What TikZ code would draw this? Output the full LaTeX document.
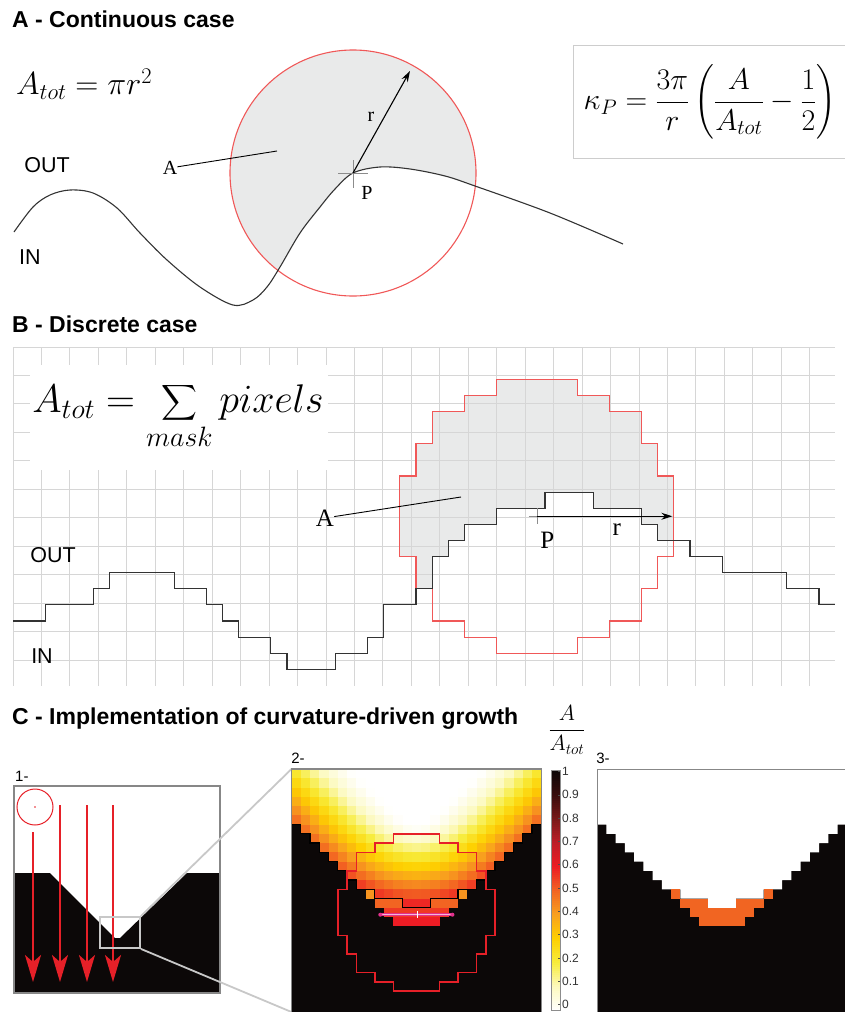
\RequirePackage{fix-cm}
\documentclass[tikz,border=0pt]{standalone}
\usepackage{amsmath}
\usepackage{fontspec}
\setmainfont{Liberation Serif}
\setsansfont{Liberation Sans}
\usetikzlibrary{arrows.meta}

\definecolor{shadegray}{RGB}{233,234,234}
\definecolor{maskred}{RGB}{240,88,88}
\definecolor{arrred}{RGB}{230,32,40}
\definecolor{gridgray}{RGB}{214,214,214}
\definecolor{boxgray}{RGB}{205,205,205}
\definecolor{framegray}{RGB}{135,135,135}
\definecolor{zoomgray}{RGB}{200,200,200}
\definecolor{inkblack}{RGB}{12,8,8}
\definecolor{groworange}{RGB}{241,101,34}
\definecolor{pinkln}{RGB}{226,48,140}
% reversed hot colour map, one stop every 0.1
\definecolor{hs0}{RGB}{255,255,255}
\definecolor{hs1}{RGB}{252,249,190}
\definecolor{hs2}{RGB}{247,236,60}
\definecolor{hs3}{RGB}{254,208,0}
\definecolor{hs4}{RGB}{248,160,30}
\definecolor{hs5}{RGB}{242,100,34}
\definecolor{hs6}{RGB}{237,28,36}
\definecolor{hs7}{RGB}{190,30,40}
\definecolor{hs8}{RGB}{120,25,25}
\definecolor{hs9}{RGB}{55,12,12}
\definecolor{hs10}{RGB}{12,8,8}

\newcommand\sethot[1]{%
  \pgfmathsetmacro\hotv{min(max(#1,0),0.9999)*10}%
  \pgfmathtruncatemacro\hotk{floor(\hotv)}%
  \pgfmathtruncatemacro\hotn{\hotk+1}%
  \pgfmathtruncatemacro\hotp{round((\hotv-\hotk)*100)}%
  \colorlet{hot}{hs\hotn!\hotp!hs\hotk}}

% first IN row of column #1 in panels C2/C3
\newcommand\wof[1]{%
  \ifnum\numexpr#1\relax<0 \the\numexpr6+(#1)\relax
  \else\ifnum\numexpr#1\relax>26 \the\numexpr32-(#1)\relax
  \else\ifcase\numexpr#1\relax 6\or7\or8\or9\or10\or11\or12\or13\or13\or14\or14\or14\or15\or15\or15\or14\or14\or14\or13\or13\or12\or11\or10\or9\or8\or7\or6\fi
  \fi\fi}

\tikzset{
  ttl/.style    ={anchor=west, inner sep=0pt,
                  font=\sffamily\bfseries\fontsize{23}{26}\selectfont},
  side/.style   ={inner sep=0pt, font=\sffamily\fontsize{21.5}{24}\selectfont},
  lblA/.style   ={inner sep=0pt, font=\fontsize{20}{22}\selectfont},
  lblB/.style   ={inner sep=0pt, font=\fontsize{25}{28}\selectfont},
  numl/.style   ={inner sep=0pt, font=\sffamily\fontsize{15}{17}\selectfont},
  tickl/.style  ={anchor=west, inner sep=0pt, text=black!80,
                  font=\sffamily\fontsize{12}{13}\selectfont},
  curve/.style  ={line width=1.1pt, black!80},
  mask/.style   ={line width=1.1pt, maskred},
  ptr/.style    ={line width=0.9pt, black},
  rad/.style    ={-{Stealth[length=11pt,width=7pt]}, line width=1.1pt},
  crossln/.style={line width=0.7pt, black!45},
  gridln/.style ={line width=0.9pt, gridgray},
  frm/.style    ={draw=framegray, line width=1.2pt},
  fall/.style   ={-{Stealth[length=27pt,width=16pt,inset=7pt]},
                  line width=2pt, arrred},
  zoomln/.style ={line width=1.8pt, zoomgray},
  ifline/.style ={line width=1.4pt, black},
  mask2/.style  ={line width=1.5pt, arrred, line join=miter},
}

\begin{document}
\begin{tikzpicture}[x=1pt, y=-1pt]
  \useasboundingbox (0,0) rectangle (845,1012);

  % ---------- A - continuous case
  \node[ttl] (ttlA) at (12,19) {A - Continuous case};
  \coordinate (P) at (353,173);
  \begin{scope}
    \clip (P) circle (123pt);
    \fill[shadegray] plot[smooth, tension=0.55] coordinates {(14,232) (33,207) (50,195) (70,190) (93,193) (117,208) (140,233) (167,260) (200,287) (233,305) (253,300) (267,287) (280,267) (300,233) (320,207) (335,189) (353,173) (380,167) (410,169) (445,176) (475,186) (550,213) (623,244)}
      -- (623,0) -- (14,0) -- cycle;
  \end{scope}
  \draw[mask] (P) circle (123pt);
  \draw[curve] plot[smooth, tension=0.55] coordinates {(14,232) (33,207) (50,195) (70,190) (93,193) (117,208) (140,233) (167,260) (200,287) (233,305) (253,300) (267,287) (280,267) (300,233) (320,207) (335,189) (353,173) (380,167) (410,169) (445,176) (475,186) (550,213) (623,244)};
  \draw[crossln] ([xshift=-15pt]P) -- ([xshift=15pt]P);
  \draw[crossln] ([yshift=13pt]P) -- ([yshift=-15pt]P);
  \coordinate (rtip) at (410,71);
  \draw[rad] (P) -- (rtip);
  \node[lblA] (rA) at (371,117) {r};
  \node[lblA] (PA) at (367,193) {P};
  \node[lblA] (labA) at (170,168) {A};
  \coordinate (inA) at (277,151);
  \draw[ptr] (labA) -- (inA);
  \node[side] (outA) at (47,165) {OUT};
  \node[side] (inA2) at (30,257) {IN};
  \node[anchor=west, inner sep=0pt, font=\fontsize{32}{35}\selectfont] (atotA) at (16,84)
    {$A_{tot} = \pi r^{2}$};
  \draw[boxgray, line width=1pt] (845,45) -- (573,45) -- (573,158) -- (845,158);
  \node[inner sep=0pt, font=\fontsize{30}{33}\selectfont] (kappa) at (710,102)
    {$\displaystyle \kappa_{P} = \frac{3\pi}{r}\left(\frac{A}{A_{tot}} - \frac{1}{2}\right)$};

  % ---------- B - discrete case
  \node[ttl] (ttlB) at (12,324) {B - Discrete case};
  \begin{scope}[shift={(13,347)}, x=16.12pt, y=-16.12pt]
    \begin{scope}
      \clip (30,2) -- (35,2) -- (35,3) -- (37,3) -- (37,4) -- (39,4) -- (39,6) -- (40,6) -- (40,8) -- (41,8) -- (41,13) -- (40,13) -- (40,15) -- (39,15) -- (39,17) -- (37,17) -- (37,18) -- (35,18) -- (35,19) -- (30,19) -- (30,18) -- (28,18) -- (28,17) -- (26,17) -- (26,15) -- (25,15) -- (25,13) -- (24,13) -- (24,8) -- (25,8) -- (25,6) -- (26,6) -- (26,4) -- (28,4) -- (28,3) -- (30,3) -- cycle;
      \fill[shadegray] (0,17) -- (2,17) -- (2,16) -- (5,16) -- (5,15) -- (6,15) -- (6,14) -- (10,14) -- (10,15) -- (12,15) -- (12,16) -- (13,16) -- (13,17) -- (14,17) -- (14,18) -- (16,18) -- (16,19) -- (17,19) -- (17,20) -- (20,20) -- (20,19) -- (22,19) -- (22,18) -- (23,18) -- (23,16) -- (25,16) -- (25,15) -- (26,15) -- (26,13) -- (27,13) -- (27,12) -- (28,12) -- (28,11) -- (30,11) -- (30,10) -- (33,10) -- (33,9) -- (36,9) -- (36,10) -- (39,10) -- (39,11) -- (40,11) -- (40,12) -- (42,12) -- (42,13) -- (44,13) -- (44,14) -- (48,14) -- (48,15) -- (50,15) -- (50,16) -- (51,16) -- (51,0) -- (0,0) -- cycle;
    \end{scope}
    \draw[gridln] (0,0) grid (51,21);
  \end{scope}
  \fill[white] (30,365) rectangle (328,470);
  \node[inner sep=0pt, font=\fontsize{40}{44}\selectfont] (atotB) at (178,416)
    {$\displaystyle A_{tot} = \sum_{mask} pixels$};
  \begin{scope}[shift={(13,347)}, x=16.12pt, y=-16.12pt]
    \draw[mask] (30,2) -- (35,2) -- (35,3) -- (37,3) -- (37,4) -- (39,4) -- (39,6) -- (40,6) -- (40,8) -- (41,8) -- (41,13) -- (40,13) -- (40,15) -- (39,15) -- (39,17) -- (37,17) -- (37,18) -- (35,18) -- (35,19) -- (30,19) -- (30,18) -- (28,18) -- (28,17) -- (26,17) -- (26,15) -- (25,15) -- (25,13) -- (24,13) -- (24,8) -- (25,8) -- (25,6) -- (26,6) -- (26,4) -- (28,4) -- (28,3) -- (30,3) -- cycle;
    \draw[curve] (0,17) -- (2,17) -- (2,16) -- (5,16) -- (5,15) -- (6,15) -- (6,14) -- (10,14) -- (10,15) -- (12,15) -- (12,16) -- (13,16) -- (13,17) -- (14,17) -- (14,18) -- (16,18) -- (16,19) -- (17,19) -- (17,20) -- (20,20) -- (20,19) -- (22,19) -- (22,18) -- (23,18) -- (23,16) -- (25,16) -- (25,15) -- (26,15) -- (26,13) -- (27,13) -- (27,12) -- (28,12) -- (28,11) -- (30,11) -- (30,10) -- (33,10) -- (33,9) -- (36,9) -- (36,10) -- (39,10) -- (39,11) -- (40,11) -- (40,12) -- (42,12) -- (42,13) -- (44,13) -- (44,14) -- (48,14) -- (48,15) -- (50,15) -- (50,16) -- (51,16);
    \coordinate (PB) at (32.5,10.5);
    \coordinate (rtipB) at (40.9,10.5);
    \draw[crossln] ([xshift=-8pt]PB) -- ([xshift=8pt]PB);
    \draw[crossln] ([yshift=8pt]PB) -- ([yshift=-8pt]PB);
    \draw[rad] (PB) -- (rtipB);
    \node[lblB] (PlB) at (33.15,12.0) {P};
    \node[lblB] (rB) at (37.45,11.35) {r};
  \end{scope}
  \node[lblB] (labB) at (325,518) {A};
  \coordinate (inB) at (461,497);
  \draw[ptr] (labB) -- (inB);
  \node[side] (outB) at (53,555) {OUT};
  \node[side] (inB2) at (42,656) {IN};

  % ---------- C - curvature-driven growth
  \node[ttl] (ttlC) at (12,719) {C - Implementation of curvature-driven growth};
  \node[inner sep=0pt, font=\fontsize{22}{24}\selectfont] (ratio) at (567,730)
    {$\displaystyle\frac{A}{A_{tot}}$};

  % panel 1
  \node[numl, anchor=west] (n1) at (15,776) {1-};
  \fill[inkblack] (14,873) -- (50,873) -- (115,938) -- (120,938) -- (187,873) -- (220,873) -- (220,993) -- (14,993) -- cycle;
  \draw[frm] (14,786) rectangle (220,993);
  \coordinate (mc) at (35,807);
  \draw[arrred, line width=1pt] (mc) circle (18pt);
  \fill[arrred] (mc) circle (0.9pt);
  \foreach \n/\xx/\yy in {1/33/832, 2/60/805, 3/87/805, 4/113/805}{
    \coordinate (fs\n) at (\xx,\yy);
    \coordinate (fe\n) at (\xx,982);
    \draw[fall] (fs\n) -- (fe\n);
  }
  \node[draw=zoomgray, line width=1.8pt, minimum width=40pt, minimum height=31pt,
        inner sep=0pt] (zbox) at (120,932.5) {};
  \coordinate (p2nw) at (291.5,769);
  \coordinate (p2sw) at (291.5,1012);
  \draw[zoomln] (zbox.north east) -- (p2nw);
  \draw[zoomln] (zbox.south east) -- (p2sw);

  % panel 2
  \node[numl] (n2) at (298,758) {2-};
  \begin{scope}[shift={(291.5,769)}, x=9.25pt, y=-9.25pt]
    \fill[inkblack] (0,0) rectangle (27,26.3);
    \foreach \i in {0,...,26}{
      \edef\wlast{\the\numexpr\wof{\i}-1\relax}
      \foreach \j in {0,...,\wlast}{
        \gdef\hsum{0}
        \foreach \dx in {-8,...,8}{
          \pgfmathsetmacro\hh{sqrt(72.25-(\dx)*(\dx))}
          \edef\wc{\wof{\i+\dx}}
          \pgfmathsetmacro\seglen{max(0,\j+0.5+\hh-max(\wc,\j+0.5-\hh))}
          \pgfmathsetmacro\newsum{\hsum+\seglen}
          \global\let\hsum\newsum
        }
        \sethot{\hsum/226.98}
        \fill[hot] (\i,\j) rectangle ++(1.02,1.02);
      }
    }
    \foreach \i/\j/\v in {8/13/0.42, 18/13/0.42, 9/14/0.5, 10/14/0.5, 11/14/0.5,
        15/14/0.5, 16/14/0.5, 17/14/0.5, 10/15/0.56, 11/15/0.56, 12/15/0.56,
        13/15/0.56, 14/15/0.56, 15/15/0.56, 16/15/0.56, 11/16/0.6, 12/16/0.6,
        13/16/0.6, 14/16/0.6, 15/16/0.6}{
      \sethot{\v}
      \fill[hot] (\i,\j) rectangle ++(1,1);
    }
    \draw[ifline] (0,6) -- (1,6) -- (1,7) -- (2,7) -- (2,8) -- (3,8) -- (3,9) -- (4,9) -- (4,10) -- (5,10) -- (5,11) -- (6,11) -- (6,12) -- (7,12) -- (7,13) -- (9,13) -- (9,14) -- (12,14) -- (12,15) -- (15,15) -- (15,14) -- (18,14) -- (18,13) -- (20,13) -- (20,12) -- (21,12) -- (21,11) -- (22,11) -- (22,10) -- (23,10) -- (23,9) -- (24,9) -- (24,8) -- (25,8) -- (25,7) -- (26,7) -- (26,6) -- (27,6);
    \draw[mask2] (11,7) -- (16,7) -- (16,8) -- (18,8) -- (18,9) -- (20,9) -- (20,11) -- (21,11) -- (21,13) -- (22,13) -- (22,18) -- (21,18) -- (21,20) -- (20,20) -- (20,22) -- (18,22) -- (18,23) -- (16,23) -- (16,24) -- (11,24) -- (11,23) -- (9,23) -- (9,22) -- (7,22) -- (7,20) -- (6,20) -- (6,18) -- (5,18) -- (5,13) -- (6,13) -- (6,11) -- (7,11) -- (7,9) -- (9,9) -- (9,8) -- (11,8) -- cycle;
    \coordinate (pk1) at (9.6,15.75);
    \coordinate (pk2) at (17.4,15.75);
    \coordinate (pkc) at (13.55,15.75);
    \draw[pinkln, line width=2.6pt] (pk1) -- (pk2);
    \draw[pinkln!35!white, line width=1pt] (pk1) -- (pk2);
    \fill[pinkln] (pk1) circle (2pt);
    \fill[pinkln] (pk2) circle (2pt);
    \draw[white, line width=0.6pt] ([yshift=-3.5pt]pkc) -- ([yshift=3.5pt]pkc);
    \draw[frm] (0,26.3) -- (0,0) -- (27,0) -- (27,26.3);
  \end{scope}

  % colour bar
  \foreach \k in {0,...,119}{
    \sethot{(\k+0.5)/120}
    \fill[hot] (551.7,{1010.7-(\k+1)*2-0.3}) rectangle (560,{1010.7-\k*2});
  }
  \draw[black!45, line width=0.6pt] (551.7,770.7) rectangle (560,1010.7);
  \foreach \k in {0,...,10}{
    \pgfmathsetmacro\yk{1004.5-23.3*\k}
    \ifnum\k=10 \def\tl{1}\else\ifnum\k=0 \def\tl{0}\else\edef\tl{0.\k}\fi\fi
    \node[tickl] (tk\k) at (562,\yk) {\tl};
    \draw[black!70, line width=0.6pt] (558,\yk) -- (560,\yk);
  }

  % panel 3
  \node[numl] (n3) at (603,758) {3-};
  \begin{scope}[shift={(597,769)}, x=9.25pt, y=-9.25pt]
    \clip (0,0) rectangle (26.81,26.3);
    \fill[inkblack] (0,0) rectangle (27,26.3);
    \fill[white] (0,0) -- (0,6) -- (1,6) -- (1,7) -- (2,7) -- (2,8) -- (3,8) -- (3,9) -- (4,9) -- (4,10) -- (5,10) -- (5,11) -- (6,11) -- (6,12) -- (7,12) -- (7,13) -- (9,13) -- (9,14) -- (12,14) -- (12,15) -- (15,15) -- (15,14) -- (18,14) -- (18,13) -- (20,13) -- (20,12) -- (21,12) -- (21,11) -- (22,11) -- (22,10) -- (23,10) -- (23,9) -- (24,9) -- (24,8) -- (25,8) -- (25,7) -- (26,7) -- (26,6) -- (27,6) -- (27,0) -- cycle;
    \foreach \i/\j in {8/13, 18/13, 9/14, 10/14, 11/14, 15/14, 16/14, 17/14,
        10/15, 11/15, 12/15, 13/15, 14/15, 15/15, 16/15,
        11/16, 12/16, 13/16, 14/16, 15/16}{
      \fill[groworange] (\i,\j) rectangle ++(1,1);
    }
    \draw[frm] (0,26.3) -- (0,0) -- (27,0);
  \end{scope}
\end{tikzpicture}
\end{document}
